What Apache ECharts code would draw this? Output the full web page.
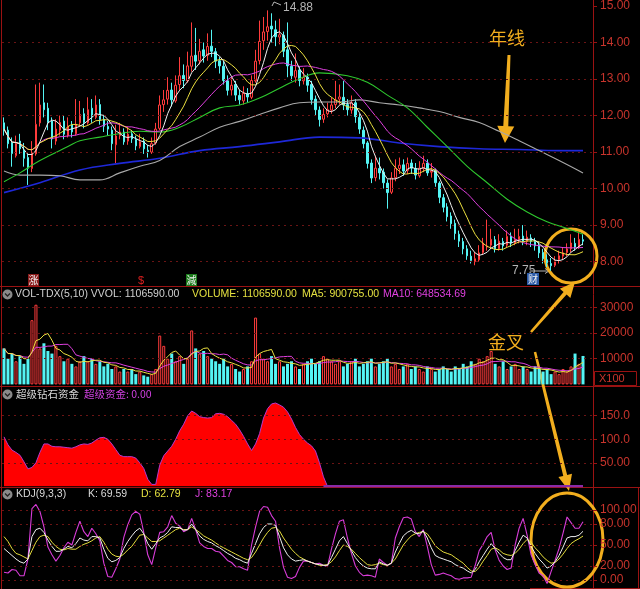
<!DOCTYPE html>
<html>
<head>
<meta charset="utf-8">
<script src="https://cdn.jsdelivr.net/npm/echarts@6/dist/echarts.min.js"></script>
<style>
html,body{margin:0;padding:0;background:#000;}
#main{width:640px;height:589px;}
</style>
</head>
<body>
<div id="main"></div>
<script>
// K线 [open, close, low, high]
var kline = [
[11.80,11.63,11.45,11.95],[11.60,11.23,11.10,11.70],[11.25,10.96,10.60,11.40],[10.90,11.23,10.85,11.45],[11.30,11.09,10.95,11.50],
[11.05,10.83,10.60,11.25],[10.85,10.56,10.10,10.95],[10.55,10.96,10.45,11.30],[10.95,11.76,10.90,12.85],[11.80,12.29,11.70,12.90],
[12.35,12.16,11.95,12.85],[12.20,11.81,11.60,12.35],[11.85,11.36,11.10,11.95],[11.30,11.63,11.20,11.90],[11.60,11.81,11.45,12.00],
[11.85,11.49,11.35,12.00],[11.45,11.71,11.40,11.95],[11.75,11.55,11.40,11.85],[11.50,11.76,11.45,12.45],[11.80,12.03,11.70,12.40],
[12.05,11.81,11.65,12.20],[11.80,12.16,11.75,12.50],[12.20,11.97,11.80,12.45],[11.95,12.29,11.90,12.55],[12.30,11.89,11.75,12.45],
[11.90,11.71,11.55,12.00],[11.70,11.63,11.45,11.85],[11.60,11.23,11.05,11.70],[11.20,11.44,10.70,11.75],[11.45,11.55,11.35,11.80],
[11.55,11.28,11.20,11.65],[11.30,11.49,11.20,11.70],[11.50,11.36,11.25,11.60],[11.35,11.17,11.05,11.45],[11.15,11.28,11.10,11.50],
[11.30,11.09,10.95,11.40],[11.05,11.01,10.85,11.20],[11.00,11.23,10.95,11.40],[11.25,11.63,11.20,11.80],[11.65,12.29,11.60,12.55],
[12.30,12.43,12.10,12.70],[12.45,12.69,12.30,13.05],[12.70,12.43,12.25,12.90],[12.40,12.83,12.35,13.10],[12.85,13.09,12.70,13.60],
[13.10,12.96,12.75,13.40],[12.95,13.36,12.90,13.75],[13.35,13.63,13.20,14.55],[13.65,13.49,13.25,14.40],[13.50,13.76,13.40,14.10],
[13.80,13.63,13.45,14.00],[13.65,13.89,13.50,14.25],[13.90,13.76,13.60,14.35],[13.75,13.49,13.30,13.85],[13.50,13.36,13.15,13.60],
[13.35,12.96,12.85,13.50],[12.95,12.69,12.55,13.10],[12.70,12.83,12.55,13.05],[12.85,12.56,12.40,12.95],[12.55,12.43,12.30,12.70],
[12.40,12.61,12.30,12.80],[12.60,12.51,12.35,12.75],[12.50,12.96,12.45,13.10],[12.95,13.49,12.90,13.80],[13.50,14.03,13.40,14.60],
[14.05,14.29,13.80,14.70],[14.30,14.43,14.05,14.88],[14.45,14.37,14.00,14.80],[14.35,14.16,13.90,14.60],[14.15,14.21,13.95,14.65],
[14.20,13.76,13.60,14.30],[13.80,13.36,13.05,14.55],[13.35,13.09,12.95,13.50],[13.05,13.23,12.90,13.70],[13.25,12.96,12.80,13.35],
[12.95,13.04,12.85,13.30],[13.05,12.83,12.65,13.15],[12.85,12.43,12.30,12.95],[12.45,12.16,12.00,12.55],[12.15,11.89,11.70,12.25],
[11.90,12.03,11.80,12.20],[12.05,12.16,11.95,12.35],[12.15,12.29,12.05,12.50],[12.30,12.43,12.20,12.95],[12.45,12.51,12.30,12.85],
[12.50,12.29,12.15,12.95],[12.30,12.16,12.00,12.45],[12.15,12.35,12.05,12.55],[12.35,11.97,11.80,12.45],[11.95,11.63,11.50,12.05],
[11.60,11.23,11.10,11.70],[11.25,10.69,10.55,11.30],[10.70,10.29,10.15,10.80],[10.30,10.56,10.20,10.90],[10.55,10.43,10.25,10.85],
[10.45,10.16,10.00,10.55],[10.15,9.89,9.45,10.25],[9.90,10.29,9.85,10.45],[10.30,10.56,10.20,10.80],[10.55,10.64,10.40,10.85],
[10.65,10.48,10.35,10.80],[10.50,10.69,10.40,10.85],[10.70,10.56,10.40,10.80],[10.55,10.37,10.25,10.70],[10.35,10.56,10.30,10.75],
[10.55,10.69,10.45,10.90],[10.70,10.43,10.35,10.80],[10.45,10.48,10.30,10.70],[10.50,10.16,10.05,10.55],[10.15,9.76,9.60,10.20],
[9.75,9.49,9.35,9.85],[9.50,9.23,9.10,9.60],[9.25,9.04,8.90,9.35],[9.05,8.77,8.60,9.15],[8.75,8.56,8.40,8.85],
[8.55,8.35,8.20,8.65],[8.35,8.16,8.05,8.45],[8.15,8.03,7.95,8.30],[8.00,8.08,7.90,8.25],[8.05,8.24,8.00,8.45],
[8.25,8.51,8.20,8.65],[8.40,8.43,8.30,9.15],[8.45,8.61,8.35,8.90],[8.60,8.35,8.25,8.70],[8.35,8.56,8.30,8.75],
[8.55,8.43,8.30,8.65],[8.45,8.69,8.40,8.85],[8.70,8.51,8.40,8.80],[8.50,8.61,8.45,8.90],[8.60,8.69,8.50,8.90],
[8.70,8.56,8.45,9.00],[8.55,8.67,8.45,8.85],[8.65,8.56,8.40,8.75],[8.55,8.43,8.30,8.65],[8.45,8.24,8.10,8.55],
[8.25,8.08,7.95,8.35],[8.05,7.97,7.85,8.20],[7.95,7.89,7.75,8.10],[7.90,8.03,7.85,8.15],[8.05,8.16,7.95,8.30],
[8.15,8.24,8.05,8.40],[8.25,8.35,8.15,8.50],[8.35,8.51,8.25,8.75],[8.50,8.40,8.30,8.65],[8.40,8.61,8.35,8.80],
[8.60,8.56,8.45,8.75]
];

// 长周期均线 [K线序号, 价格]
var ma60Pts = [[0,10.19],[4,10.43],[9,10.77],[16,11.15],[19,11.31],[24,11.41],[28,11.49],[34,11.57],[39,11.55],[44,11.68],
  [49,11.95],[54,12.21],[59,12.29],[64,12.48],[69,12.75],[74,13.01],[79,13.17],[86,13.09],[91,12.91],[96,12.56],
  [101,12.21],[106,11.68],[111,11.15],[116,10.61],[121,10.16],[126,9.71],[131,9.36],[136,9.09],[141,8.91],[145,8.75]];
var ma120Pts = [[0,10.48],[4,10.37],[9,10.37],[14,10.35],[19,10.24],[24,10.24],[29,10.43],[34,10.61],[39,10.77],[44,11.15],
  [49,11.41],[54,11.68],[59,11.84],[64,12.03],[69,12.21],[74,12.35],[79,12.37],[84,12.37],[89,12.43],[94,12.35],
  [99,12.29],[104,12.21],[109,12.11],[114,11.95],[119,11.81],[124,11.57],[129,11.31],[134,11.04],[139,10.77],[145,10.43]];
var ma250Pts = [[0,9.89],[9,10.16],[19,10.51],[29,10.69],[39,10.83],[49,11.04],[59,11.15],[69,11.28],[79,11.41],[89,11.39],
  [99,11.25],[109,11.15],[119,11.09],[129,11.07],[139,11.04],[145,11.04]];

// 成交量 (x100)
var volume = [
14000,10000,12000,9000,11000, 8000,10000,25000,31000,14000, 16000,13000,12000,15000,11000, 9000,10000,8000,7000,9000,
11000,9000,10000,8000,9000, 7000,8000,6000,7000,5000, 6000,5000,6000,4000,5000, 3500,3000,4000,6000,19000,
15000,10000,12000,9000,11000, 8000,10000,21000,14000,12000, 13000,11000,10000,9000,8000, 10000,7000,8000,6000,5000,
6000,7000,9000,26000,12000, 10000,9000,11000,8000,9000, 7000,8000,9000,7000,6000, 8000,9000,10000,8000,9000,
11000,10000,9000,8000,9000, 7000,8000,9000,10000,7000, 8000,9000,10000,7000,8000, 9000,10000,7000,8000,6000,
7000,8000,6000,7000,6000, 5000,7000,6000,5000,6000, 7000,6000,5000,7000,6000, 8000,7000,9000,8000,10000,
9000,11000,13000,8000,7000, 9000,6000,7000,8000,6000, 7000,6000,5000,7000,6000, 5000,6000,4000,5000,4000,
6000,5000,7000,12000,8000,11066
];

// 超级资金
var fund = [
105,88,77,72,66,52,37,40,50,72, 90,90,85,84,84,83,82,81,84,88, 90,89,92,98,103,104,100,90,78,66,
63,63,63,60,50,38,15,4,4,45, 65,75,85,100,118,132,150,160,155,148, 146,145,146,154,155,153,148,140,132,120,
106,90,76,90,112,145,165,175,177,173, 168,158,143,125,110,100,92,86,75,50, 20,0,0,0,0,0,0,0,0,0,
0,0,0,0,0,0,0,0,0,0, 0,0,0,0,0,0,0,0,0,0, 0,0,0,0,0,0,0,0,0,0,
0,0,0,0,0,0,0,0,0,0, 0,0,0,0,0,0,0,0,0,0, 0,0,0,0,0,0
];

// KDJ
var kVals = [
45,40,35,30,26,24,30,62,72,74, 68,57,48,41,41,44,48,46,52,60, 57,56,62,62,60,44,31,26,28,32,
45,55,63,70,74,66,52,44,52,60, 63,68,76,75,75,71,72,80,72,63, 58,55,53,49,46,42,38,35,31,29,
26,24,38,52,66,75,80,80,78,62, 46,36,30,27,28,29,27,25,23,22, 21,21,32,44,56,62,52,42,32,25,
20,17,16,16,26,23,21,24,40,52, 63,68,71,67,66,70,60,46,35,32, 30,28,26,22,19,17,13,10,15,26,
35,44,52,45,38,32,29,29,42,54, 64,60,48,38,30,24,17,20,26,35, 47,60,62,62,64,69.59
];
var dVals = [
62,55,45,38,36,33,30,42,54,62, 64,62,54,48,44,43,45,44,44,48, 51,53,56,60,62,54,44,37,34,33,
37,43,48,56,64,65,60,55,55,56, 60,64,68,72,74,72,72,76,72,68, 63,60,57,53,49,46,43,40,37,34,
31,29,32,40,50,60,68,74,75,70, 60,52,44,38,33,30,27,25,23,21, 21,22,26,33,42,50,48,44,38,32,
27,22,21,22,24,22,21,24,30,40, 50,57,63,66,68,69,66,58,49,44, 40,38,36,32,28,24,18,13,12,18,
27,35,44,46,43,38,36,35,38,44, 52,58,54,46,40,33,28,24,25,30, 37,45,52,56,59,62.79
];

var priceTicks = [8, 9, 10, 11, 12, 13, 14, 15];
var volTicks = [10000, 20000, 30000];
var fundTicks = [50, 100, 150];
var kdjTicks = [0, 20, 50, 80, 100];

var N = 148;
var cats = [];
for (var i = 0; i < N; i++) cats.push(String(i));

var closes = kline.map(function (d) { return d[1]; });

function calcMA(src, n) {
    var out = [];
    for (var i = 0; i < src.length; i++) {
        var s = 0, c = 0;
        for (var j = Math.max(0, i - n + 1); j <= i; j++) { s += src[j]; c++; }
        out.push(+(s / c).toFixed(3));
    }
    return out;
}
var jVals = kVals.map(function (k, i) { return +(3 * k - 2 * dVals[i]).toFixed(2); });
var fundBase = fund.map(function (v, i) { return (v === 0 || fund[i + 1] === 0) ? 0 : null; });

var RED = '#ff3c3c', CYAN = '#54f4f4';
var volData = volume.map(function (v, i) {
    var up = kline[i][1] >= kline[i][0];
    return {
        value: v,
        itemStyle: up ? { color: '#000', borderColor: RED, borderWidth: 1 } : { color: CYAN, borderWidth: 0 }
    };
});

var AXIS = '#c8342c', BORDER = '#9a1212', DOT = '#6a1414';

function gridLines(vals) {
    return {
        silent: true, symbol: ['none', 'none'], animation: false,
        label: { show: false },
        lineStyle: { color: DOT, type: [2, 4], width: 1 },
        data: vals.map(function (v) { return { yAxis: v }; })
    };
}
function yAxisOf(gi, min, max, ticks, fmt) {
    return {
        gridIndex: gi, type: 'value', position: 'right', min: min, max: max, scale: true,
        splitLine: { show: false },
        axisLine: { show: false },
        axisTick: { show: true, customValues: ticks, length: 4, inside: false, lineStyle: { color: BORDER } },
        axisLabel: { customValues: ticks, color: AXIS, fontSize: 12, fontFamily: 'Liberation Sans, Arial', margin: 7, formatter: fmt }
    };
}
function xAxisOf(gi) {
    return { gridIndex: gi, type: 'category', data: cats, boundaryGap: true, show: false };
}

// 标注箭头
function arrow(x1, y1, x2, y2, w1, w2, hl, hw) {
    var dx = x2 - x1, dy = y2 - y1, L = Math.sqrt(dx * dx + dy * dy);
    var ux = dx / L, uy = dy / L, px = -uy, py = ux;
    var bx = x2 - ux * hl, by = y2 - uy * hl;
    return [
        [x1 + px * w1 / 2, y1 + py * w1 / 2],
        [bx + px * w2 / 2, by + py * w2 / 2],
        [bx + px * hw / 2, by + py * hw / 2],
        [x2, y2],
        [bx - px * hw / 2, by - py * hw / 2],
        [bx - px * w2 / 2, by - py * w2 / 2],
        [x1 - px * w1 / 2, y1 - py * w1 / 2]
    ];
}
var ORANGE = '#f2ae1e';
var FONT = 'Liberation Sans, Arial, sans-serif';
var CJK = 'Noto Sans CJK SC, sans-serif';

function txt(x, y, s, color, size, family) {
    return { type: 'text', x: x, y: y, silent: true,
        style: { text: s, fill: color, fontSize: size || 10.5, fontFamily: family || FONT, verticalAlign: 'middle' } };
}
function icon(x, y) {
    return [
        { type: 'circle', shape: { cx: x, cy: y, r: 5 }, style: { fill: '#8a8a8a' } },
        { type: 'polyline', shape: { points: [[x - 2.5, y - 1], [x, y + 1.5], [x + 2.5, y - 1]] }, style: { stroke: '#222', lineWidth: 1.3, fill: null } }
    ];
}
function hline(y, x1, x2) {
    return { type: 'line', shape: { x1: x1, y1: y, x2: x2, y2: y }, style: { stroke: BORDER, lineWidth: 1 } };
}
function vline(x, y1, y2) {
    return { type: 'line', shape: { x1: x, y1: y1, x2: x, y2: y2 }, style: { stroke: BORDER, lineWidth: 1 } };
}
function tag(x, y, w, s, bg) {
    return [
        { type: 'rect', shape: { x: x, y: y, width: w, height: 12 }, style: { fill: bg } },
        { type: 'text', x: x + w / 2, y: y + 6, style: { text: s, fill: '#f0f0f0', fontSize: 10, fontFamily: CJK, align: 'center', verticalAlign: 'middle' } }
    ];
}

var graphics = [].concat(
    [hline(286.5, 0, 640), hline(386.5, 0, 640), hline(487.5, 0, 640), hline(588.5, 530, 640),
     vline(1.5, 0, 589), vline(593.5, 0, 589), vline(638.5, 487, 589)],
    [{ type: 'rect', shape: { x: 594.5, y: 371.5, width: 42, height: 14 }, style: { fill: null, stroke: BORDER, lineWidth: 1 } },
     txt(599, 379, 'X100', AXIS, 11)],
    icon(7.5, 294.5),
    [txt(15, 294.5, 'VOL-TDX(5,10) VVOL: 1106590.00', '#d0d0d0'),
     txt(192, 294.5, 'VOLUME: 1106590.00', '#e4e040'),
     txt(302, 294.5, 'MA5: 900755.00', '#e4e040'),
     txt(383, 294.5, 'MA10: 648534.69', '#e040e0')],
    icon(7.5, 394.5),
    [txt(16, 394.5, '超级钻石资金', '#d8d8d8', 10.5, CJK),
     txt(84, 394.5, '超级资金: 0.00', '#d040e0', 10.5, CJK)],
    icon(7.5, 494.5),
    [txt(16, 494.5, 'KDJ(9,3,3)', '#d8d8d8'),
     txt(88, 494.5, 'K: 69.59', '#d8d8d8'),
     txt(141, 494.5, 'D: 62.79', '#e4e040'),
     txt(195, 494.5, 'J: 83.17', '#e040e0')],
    // 主图标记
    [txt(283, 8, '14.88', '#b4b4b4', 12),
     { type: 'polyline', shape: { points: [[272, 6], [274, 2], [281, 5]] }, style: { stroke: '#b4b4b4', lineWidth: 1, fill: null } },
     txt(512, 271, '7.75', '#b4b4b4', 12),
     { type: 'line', shape: { x1: 530, y1: 271, x2: 549, y2: 271 }, style: { stroke: '#b4b4b4', lineWidth: 1 } },
     { type: 'polyline', shape: { points: [[545, 268.5], [549, 271], [545, 273.5]] }, style: { stroke: '#b4b4b4', lineWidth: 1, fill: null } },
     txt(138, 281, '$', '#e02020', 11)],
    tag(28, 274, 11, '涨', '#8a1c1c'),
    tag(186, 274, 11, '減', '#1c7c1c'),
    tag(527, 273, 12, '财', '#2a5aa8'),
    // 橙色标注
    [{ type: 'text', x: 489, y: 38, style: { text: '年线', fill: ORANGE, fontSize: 18, fontFamily: CJK, verticalAlign: 'middle' } },
     { type: 'polygon', shape: { points: arrow(509, 55, 505, 143, 3, 5, 17, 17) }, style: { fill: ORANGE } },
     { type: 'ellipse', shape: { cx: 571, cy: 256, rx: 26, ry: 27 }, style: { fill: null, stroke: ORANGE, lineWidth: 3 } },
     { type: 'text', x: 488, y: 342, style: { text: '金叉', fill: ORANGE, fontSize: 18, fontFamily: CJK, verticalAlign: 'middle' } },
     { type: 'polygon', shape: { points: arrow(531, 332, 575, 282, 2.5, 4, 15, 14) }, style: { fill: ORANGE } },
     { type: 'polygon', shape: { points: arrow(535, 352, 569, 491, 2.5, 4, 16, 14) }, style: { fill: ORANGE } },
     { type: 'ellipse', shape: { cx: 567, cy: 540, rx: 36, ry: 47 }, style: { fill: null, stroke: ORANGE, lineWidth: 3 } }]
);

var chart = echarts.init(document.getElementById('main'), null, { renderer: 'canvas' });
chart.setOption({
    backgroundColor: '#000',
    animation: false,
    grid: [
        { left: 2, right: 47, top: -1.5, height: 286.5 },
        { left: 2, right: 47, top: 287, height: 97.4 },
        { left: 2, right: 47, top: 387, height: 99.3 },
        { left: 2, right: 47, top: 487.5, height: 101.5 }
    ],
    xAxis: [xAxisOf(0), xAxisOf(1), xAxisOf(2), xAxisOf(3)],
    yAxis: [
        yAxisOf(0, 7.36, 15, priceTicks, function (v) { return v.toFixed(2); }),
        yAxisOf(1, 0, 37900, volTicks, function (v) { return String(v); }),
        yAxisOf(2, 0, 211, fundTicks, function (v) { return v.toPrecision(4); }),
        yAxisOf(3, -12.86, 132.14, kdjTicks, function (v) { return v.toFixed(2); })
    ],
    series: [
        { type: 'candlestick', xAxisIndex: 0, yAxisIndex: 0, data: kline, barMaxWidth: 3,
          itemStyle: { color: '#000', color0: CYAN, borderColor: RED, borderColor0: CYAN, borderWidth: 1 },
          markLine: gridLines([8, 9, 10, 11, 12, 13, 14]) },
        { type: 'line', name: 'MA250', data: ma250Pts, smooth: 0.4, symbol: 'none', lineStyle: { color: '#1e28d8', width: 1.6 } },
        { type: 'line', name: 'MA120', data: ma120Pts, smooth: 0.4, symbol: 'none', lineStyle: { color: '#a8a8a8', width: 1.1 } },
        { type: 'line', name: 'MA60', data: ma60Pts, smooth: 0.4, symbol: 'none', lineStyle: { color: '#2ec82e', width: 1.1 } },
        { type: 'line', name: 'MA20', data: calcMA(closes, 20), symbol: 'none', lineStyle: { color: '#e040e0', width: 1 } },
        { type: 'line', name: 'MA10', data: calcMA(closes, 10), symbol: 'none', lineStyle: { color: '#ece040', width: 1 } },
        { type: 'line', name: 'MA5', data: calcMA(closes, 5), symbol: 'none', lineStyle: { color: '#f0f0f0', width: 1 } },

        { type: 'bar', xAxisIndex: 1, yAxisIndex: 1, data: volData, barWidth: 3, markLine: gridLines(volTicks) },
        { type: 'line', xAxisIndex: 1, yAxisIndex: 1, data: calcMA(volume, 10), symbol: 'none', lineStyle: { color: '#e040e0', width: 1 } },
        { type: 'line', xAxisIndex: 1, yAxisIndex: 1, data: calcMA(volume, 5), symbol: 'none', lineStyle: { color: '#ece040', width: 1 } },

        { type: 'line', xAxisIndex: 2, yAxisIndex: 2, data: fund, symbol: 'none',
          lineStyle: { color: '#b838c8', width: 1 }, areaStyle: { color: '#ff0000', opacity: 1 },
          markLine: gridLines(fundTicks) },
        { type: 'line', xAxisIndex: 2, yAxisIndex: 2, data: fundBase, symbol: 'none', lineStyle: { color: '#8a2aa8', width: 2.5 } },

        { type: 'line', xAxisIndex: 3, yAxisIndex: 3, data: jVals, symbol: 'none', lineStyle: { color: '#d83cd8', width: 1.1 },
          markLine: gridLines(kdjTicks) },
        { type: 'line', xAxisIndex: 3, yAxisIndex: 3, data: dVals, symbol: 'none', lineStyle: { color: '#e4dc3c', width: 1 } },
        { type: 'line', xAxisIndex: 3, yAxisIndex: 3, data: kVals, symbol: 'none', lineStyle: { color: '#f0f0f0', width: 1 } }
    ],
    graphic: graphics
});
</script>
</body>
</html>
